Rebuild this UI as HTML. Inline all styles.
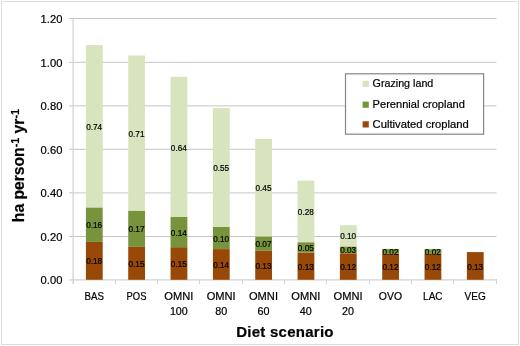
<!DOCTYPE html>
<html><head><meta charset="utf-8"><style>
html,body{margin:0;padding:0;background:#fff;width:520px;height:346px;overflow:hidden}
svg text{font-family:"Liberation Sans",sans-serif}
svg{will-change:transform}
svg text{stroke:#000;stroke-width:0.2px}
</style></head><body>
<svg width="520" height="346" viewBox="0 0 520 346" style="position:absolute;left:0;top:0">
<rect x="1.5" y="1.5" width="517" height="343" fill="#fff" stroke="#dedede" stroke-width="1"/>
<line x1="69" y1="18.5" x2="496.5" y2="18.5" stroke="#c6c6c6" stroke-width="1"/>
<line x1="69" y1="62.3" x2="496.5" y2="62.3" stroke="#c6c6c6" stroke-width="1"/>
<line x1="69" y1="105.9" x2="496.5" y2="105.9" stroke="#c6c6c6" stroke-width="1"/>
<line x1="69" y1="149.3" x2="496.5" y2="149.3" stroke="#c6c6c6" stroke-width="1"/>
<line x1="69" y1="192.9" x2="496.5" y2="192.9" stroke="#c6c6c6" stroke-width="1"/>
<line x1="69" y1="236.5" x2="496.5" y2="236.5" stroke="#c6c6c6" stroke-width="1"/>
<line x1="73.1" y1="18" x2="73.1" y2="284" stroke="#d2d2d2" stroke-width="1.2"/>
<line x1="69" y1="279.9" x2="497" y2="279.9" stroke="#d2d2d2" stroke-width="1.3"/>
<line x1="73.5" y1="279" x2="73.5" y2="284" stroke="#d2d2d2" stroke-width="1"/>
<line x1="115.5" y1="279" x2="115.5" y2="284" stroke="#d2d2d2" stroke-width="1"/>
<line x1="157.5" y1="279" x2="157.5" y2="284" stroke="#d2d2d2" stroke-width="1"/>
<line x1="199.5" y1="279" x2="199.5" y2="284" stroke="#d2d2d2" stroke-width="1"/>
<line x1="242.5" y1="279" x2="242.5" y2="284" stroke="#d2d2d2" stroke-width="1"/>
<line x1="284.5" y1="279" x2="284.5" y2="284" stroke="#d2d2d2" stroke-width="1"/>
<line x1="326.5" y1="279" x2="326.5" y2="284" stroke="#d2d2d2" stroke-width="1"/>
<line x1="369.5" y1="279" x2="369.5" y2="284" stroke="#d2d2d2" stroke-width="1"/>
<line x1="411.5" y1="279" x2="411.5" y2="284" stroke="#d2d2d2" stroke-width="1"/>
<line x1="453.5" y1="279" x2="453.5" y2="284" stroke="#d2d2d2" stroke-width="1"/>
<line x1="496.5" y1="279" x2="496.5" y2="284" stroke="#d2d2d2" stroke-width="1"/>
<rect x="85.90" y="241.90" width="16.8" height="37.90" fill="#984807"/>
<rect x="85.90" y="207.40" width="16.8" height="34.50" fill="#77933c"/>
<rect x="85.90" y="45.10" width="16.8" height="162.30" fill="#d7e4bd"/>
<rect x="128.23" y="246.90" width="16.8" height="32.90" fill="#984807"/>
<rect x="128.23" y="210.65" width="16.8" height="36.25" fill="#77933c"/>
<rect x="128.23" y="55.50" width="16.8" height="155.15" fill="#d7e4bd"/>
<rect x="170.56" y="247.20" width="16.8" height="32.60" fill="#984807"/>
<rect x="170.56" y="217.00" width="16.8" height="30.20" fill="#77933c"/>
<rect x="170.56" y="76.80" width="16.8" height="140.20" fill="#d7e4bd"/>
<rect x="212.89" y="249.10" width="16.8" height="30.70" fill="#984807"/>
<rect x="212.89" y="226.90" width="16.8" height="22.20" fill="#77933c"/>
<rect x="212.89" y="108.10" width="16.8" height="118.80" fill="#d7e4bd"/>
<rect x="255.22" y="250.80" width="16.8" height="29.00" fill="#984807"/>
<rect x="255.22" y="236.40" width="16.8" height="14.40" fill="#77933c"/>
<rect x="255.22" y="139.00" width="16.8" height="97.40" fill="#d7e4bd"/>
<rect x="297.55" y="252.60" width="16.8" height="27.20" fill="#984807"/>
<rect x="297.55" y="242.20" width="16.8" height="10.40" fill="#77933c"/>
<rect x="297.55" y="180.60" width="16.8" height="61.60" fill="#d7e4bd"/>
<rect x="339.88" y="253.30" width="16.8" height="26.50" fill="#984807"/>
<rect x="339.88" y="246.40" width="16.8" height="6.90" fill="#77933c"/>
<rect x="339.88" y="225.20" width="16.8" height="21.20" fill="#d7e4bd"/>
<rect x="382.21" y="253.60" width="16.8" height="26.20" fill="#984807"/>
<rect x="382.21" y="248.90" width="16.8" height="4.70" fill="#77933c"/>
<rect x="424.54" y="253.90" width="16.8" height="25.90" fill="#984807"/>
<rect x="424.54" y="249.20" width="16.8" height="4.70" fill="#77933c"/>
<rect x="466.87" y="252.10" width="16.8" height="27.70" fill="#984807"/>
<text x="94.16" y="264.45" font-size="8.2" text-anchor="middle" fill="#000">0.18</text>
<text x="94.16" y="228.25" font-size="8.2" text-anchor="middle" fill="#000">0.16</text>
<text x="94.16" y="129.85" font-size="8.2" text-anchor="middle" fill="#000">0.74</text>
<text x="136.50" y="266.95" font-size="8.2" text-anchor="middle" fill="#000">0.15</text>
<text x="136.50" y="232.38" font-size="8.2" text-anchor="middle" fill="#000">0.17</text>
<text x="136.50" y="136.67" font-size="8.2" text-anchor="middle" fill="#000">0.71</text>
<text x="178.82" y="267.10" font-size="8.2" text-anchor="middle" fill="#000">0.15</text>
<text x="178.82" y="235.70" font-size="8.2" text-anchor="middle" fill="#000">0.14</text>
<text x="178.82" y="150.50" font-size="8.2" text-anchor="middle" fill="#000">0.64</text>
<text x="221.16" y="268.05" font-size="8.2" text-anchor="middle" fill="#000">0.14</text>
<text x="221.16" y="241.60" font-size="8.2" text-anchor="middle" fill="#000">0.10</text>
<text x="221.16" y="171.10" font-size="8.2" text-anchor="middle" fill="#000">0.55</text>
<text x="263.49" y="268.90" font-size="8.2" text-anchor="middle" fill="#000">0.13</text>
<text x="263.49" y="247.20" font-size="8.2" text-anchor="middle" fill="#000">0.07</text>
<text x="263.49" y="191.30" font-size="8.2" text-anchor="middle" fill="#000">0.45</text>
<text x="305.81" y="269.80" font-size="8.2" text-anchor="middle" fill="#000">0.13</text>
<text x="305.81" y="251.00" font-size="8.2" text-anchor="middle" fill="#000">0.05</text>
<text x="305.81" y="215.00" font-size="8.2" text-anchor="middle" fill="#000">0.28</text>
<text x="348.14" y="270.15" font-size="8.2" text-anchor="middle" fill="#000">0.12</text>
<text x="348.14" y="253.45" font-size="8.2" text-anchor="middle" fill="#000">0.03</text>
<text x="348.14" y="239.40" font-size="8.2" text-anchor="middle" fill="#000">0.10</text>
<text x="390.47" y="270.30" font-size="8.2" text-anchor="middle" fill="#000">0.12</text>
<text x="390.47" y="254.85" font-size="8.2" text-anchor="middle" fill="#000">0.02</text>
<text x="432.81" y="270.45" font-size="8.2" text-anchor="middle" fill="#000">0.12</text>
<text x="432.81" y="255.15" font-size="8.2" text-anchor="middle" fill="#000">0.02</text>
<text x="475.13" y="269.55" font-size="8.2" text-anchor="middle" fill="#000">0.13</text>
<text x="62.4" y="283.90" font-size="11.2" text-anchor="end" fill="#000">0.00</text>
<text x="62.4" y="240.90" font-size="11.2" text-anchor="end" fill="#000">0.20</text>
<text x="62.4" y="196.90" font-size="11.2" text-anchor="end" fill="#000">0.40</text>
<text x="62.4" y="153.90" font-size="11.2" text-anchor="end" fill="#000">0.60</text>
<text x="62.4" y="109.90" font-size="11.2" text-anchor="end" fill="#000">0.80</text>
<text x="62.4" y="66.90" font-size="11.2" text-anchor="end" fill="#000">1.00</text>
<text x="62.4" y="22.90" font-size="11.2" text-anchor="end" fill="#000">1.20</text>
<text x="94.16" y="299.6" font-size="10.4" text-anchor="middle" textLength="19.4" lengthAdjust="spacingAndGlyphs" fill="#000">BAS</text>
<text x="136.50" y="299.6" font-size="10.4" text-anchor="middle" textLength="19.9" lengthAdjust="spacingAndGlyphs" fill="#000">POS</text>
<text x="178.82" y="299.6" font-size="10.4" text-anchor="middle" textLength="29.0" lengthAdjust="spacingAndGlyphs" fill="#000">OMNI</text>
<text x="178.82" y="314.6" font-size="10.4" text-anchor="middle" textLength="17.8" lengthAdjust="spacingAndGlyphs" fill="#000">100</text>
<text x="221.16" y="299.6" font-size="10.4" text-anchor="middle" textLength="29.0" lengthAdjust="spacingAndGlyphs" fill="#000">OMNI</text>
<text x="221.16" y="314.6" font-size="10.4" text-anchor="middle" textLength="12.0" lengthAdjust="spacingAndGlyphs" fill="#000">80</text>
<text x="263.49" y="299.6" font-size="10.4" text-anchor="middle" textLength="29.0" lengthAdjust="spacingAndGlyphs" fill="#000">OMNI</text>
<text x="263.49" y="314.6" font-size="10.4" text-anchor="middle" textLength="12.0" lengthAdjust="spacingAndGlyphs" fill="#000">60</text>
<text x="305.81" y="299.6" font-size="10.4" text-anchor="middle" textLength="29.0" lengthAdjust="spacingAndGlyphs" fill="#000">OMNI</text>
<text x="305.81" y="314.6" font-size="10.4" text-anchor="middle" textLength="12.0" lengthAdjust="spacingAndGlyphs" fill="#000">40</text>
<text x="348.14" y="299.6" font-size="10.4" text-anchor="middle" textLength="29.0" lengthAdjust="spacingAndGlyphs" fill="#000">OMNI</text>
<text x="348.14" y="314.6" font-size="10.4" text-anchor="middle" textLength="12.0" lengthAdjust="spacingAndGlyphs" fill="#000">20</text>
<text x="390.47" y="299.6" font-size="10.4" text-anchor="middle" textLength="23.2" lengthAdjust="spacingAndGlyphs" fill="#000">OVO</text>
<text x="432.81" y="299.6" font-size="10.4" text-anchor="middle" textLength="19.4" lengthAdjust="spacingAndGlyphs" fill="#000">LAC</text>
<text x="475.13" y="299.6" font-size="10.4" text-anchor="middle" textLength="21.2" lengthAdjust="spacingAndGlyphs" fill="#000">VEG</text>
<text x="285" y="336.6" font-size="15" font-weight="bold" text-anchor="middle" fill="#000" letter-spacing="0.25">Diet scenario</text>
<text transform="translate(24.2,165.6) rotate(-90) scale(0.98,1)" font-size="16" font-weight="bold" text-anchor="middle" fill="#000">ha person<tspan font-size="11" dy="-5.3">-1</tspan><tspan dy="5.3"> yr</tspan><tspan font-size="11" dy="-5.3">-1</tspan></text>
<rect x="345.5" y="73.8" width="138.1" height="60.4" fill="#fff" stroke="#858585" stroke-width="1.2"/>
<rect x="362.6" y="80.80" width="6.2" height="6.2" fill="#d7e4bd"/>
<text x="372.6" y="87.00" font-size="10.4" textLength="60.7" lengthAdjust="spacingAndGlyphs" fill="#000">Grazing land</text>
<rect x="362.6" y="101.60" width="6.2" height="6.2" fill="#77933c"/>
<text x="372.6" y="107.80" font-size="10.4" textLength="92.3" lengthAdjust="spacingAndGlyphs" fill="#000">Perennial cropland</text>
<rect x="362.6" y="121.30" width="6.2" height="6.2" fill="#984807"/>
<text x="372.6" y="127.50" font-size="10.4" textLength="96.2" lengthAdjust="spacingAndGlyphs" fill="#000">Cultivated cropland</text>
</svg>
</body></html>
